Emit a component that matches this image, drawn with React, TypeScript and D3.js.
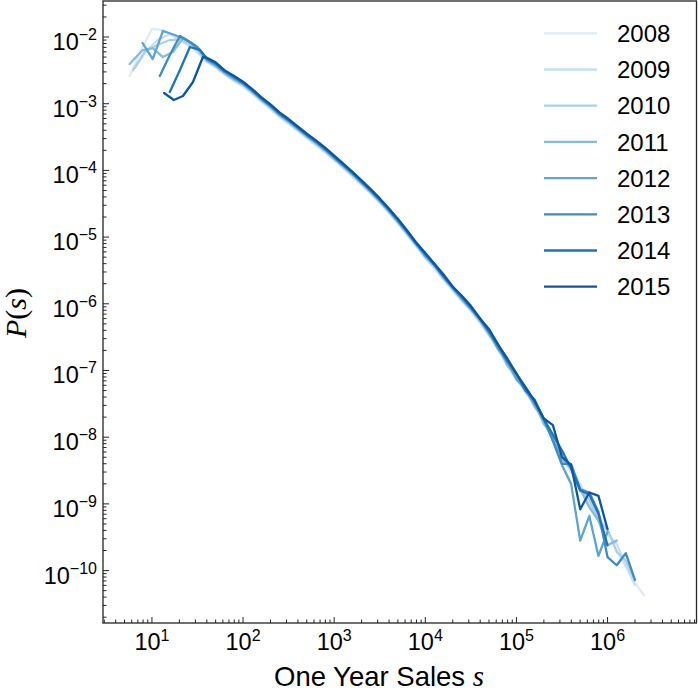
import React from 'react';
import * as d3 from 'd3';

const YEARS = ['2008', '2009', '2010', '2011', '2012', '2013', '2014', '2015'];
const COLORS = ['#deebf7', '#cadef0', '#acd0e6', '#85bcdc', '#5ea5d1', '#3d8dc4', '#2272b6', '#0d57a1'];

// common log-binned sales grid (bin centres)
const SALES_GRID = [40, 50, 63, 79, 100, 126, 158, 200, 251, 316, 398, 501, 631, 794,
  1e3, 1259, 1585, 1995, 2512, 3162, 3981, 5012, 6310, 7943,
  1e4, 12589, 15849, 19953, 25119, 31623, 39811, 50119, 63096, 79433,
  1e5, 125893, 158489, 199526, 251189, 316228, 398107, 501187, 630957, 794328,
  1e6, 1258925, 1584893, 1995262, 2511886];

// log10 P(s) on the grid, per year
const LOG_P_2008 = [-2.38, -2.46, -2.57, -2.66, -2.75, -2.85, -2.97, -3.09, -3.20, -3.31, -3.41, -3.52, -3.63, -3.73, -3.85, -3.97, -4.10, -4.22, -4.35, -4.49, -4.64, -4.80, -4.97, -5.14, -5.32, -5.47, -5.64, -5.81, -5.96, -6.11, -6.29,
  -6.48, -6.70, -6.92, -7.12, -7.33, -7.52, -7.78, -8.03, -8.27, -8.48, -8.70, -8.95, -9.15, -9.40, -9.70, -9.95, -10.18, -10.37];
const LOG_P_2009 = [-2.37, -2.45, -2.56, -2.65, -2.73, -2.84, -2.96, -3.07, -3.19, -3.29, -3.40, -3.51, -3.61, -3.72, -3.84, -3.96, -4.08, -4.21, -4.34, -4.48, -4.63, -4.79, -4.96, -5.13, -5.31, -5.46, -5.63, -5.79, -5.95, -6.10, -6.27,
  -6.47, -6.68, -6.93, -7.12, -7.30, -7.53, -7.78, -8.01, -8.30, -8.52, -8.72, -8.98, -9.22, -9.45, -9.60, -9.92, -10.22];
const LOG_P_2010 = [-2.36, -2.44, -2.55, -2.64, -2.72, -2.83, -2.95, -3.06, -3.18, -3.28, -3.39, -3.50, -3.60, -3.71, -3.83, -3.95, -4.07, -4.20, -4.33, -4.47, -4.62, -4.78, -4.95, -5.12, -5.30, -5.44, -5.62, -5.78, -5.94, -6.09, -6.26,
  -6.44, -6.67, -6.88, -7.14, -7.27, -7.55, -7.72, -8.06, -8.24, -8.48, -8.80, -8.93, -9.25, -9.38, -9.72, -9.85, -10.15];
const LOG_P_2011 = [-2.35, -2.43, -2.54, -2.63, -2.71, -2.82, -2.94, -3.05, -3.17, -3.27, -3.38, -3.49, -3.59, -3.70, -3.82, -3.94, -4.06, -4.19, -4.32, -4.46, -4.61, -4.77, -4.94, -5.11, -5.29, -5.43, -5.61, -5.77, -5.93, -6.08, -6.25,
  -6.46, -6.63, -6.92, -7.08, -7.32, -7.48, -7.80, -7.98, -8.34, -8.46, -8.78, -9.05, -9.25, -9.62, -9.55];
const LOG_P_2012 = [-2.34, -2.42, -2.53, -2.62, -2.70, -2.81, -2.93, -3.04, -3.16, -3.26, -3.37, -3.48, -3.58, -3.69, -3.81, -3.93, -4.05, -4.18, -4.31, -4.45, -4.60, -4.76, -4.93, -5.10, -5.28, -5.42, -5.60, -5.76, -5.92, -6.07, -6.24,
  -6.43, -6.68, -6.86, -7.13, -7.28, -7.52, -7.74, -8.05, -8.42, -8.70, -9.55, -9.18, -9.78, -9.42];
const LOG_P_2013 = [-2.33, -2.40, -2.52, -2.60, -2.69, -2.80, -2.92, -3.03, -3.15, -3.25, -3.36, -3.47, -3.57, -3.68, -3.80, -3.92, -4.04, -4.17, -4.30, -4.44, -4.59, -4.75, -4.92, -5.10, -5.26, -5.41, -5.59, -5.75, -5.90, -6.06, -6.23,
  -6.42, -6.64, -6.87, -7.06, -7.27, -7.47, -7.72, -8.05, -8.40, -8.40, -8.78, -8.83, -9.12, -9.80, -9.92, -9.74, -10.14];
const LOG_P_2014 = [-2.32, -2.39, -2.51, -2.59, -2.68, -2.79, -2.91, -3.02, -3.14, -3.24, -3.35, -3.46, -3.56, -3.67, -3.79, -3.91, -4.03, -4.16, -4.29, -4.43, -4.58, -4.74, -4.91, -5.09, -5.25, -5.41, -5.58, -5.75, -5.89, -6.05, -6.22,
  -6.41, -6.61, -6.85, -7.04, -7.30, -7.44, -7.73, -7.96, -8.20, -8.47, -8.80, -8.86, -9.15, -9.62];
const LOG_P_2015 = [-2.31, -2.38, -2.50, -2.58, -2.67, -2.78, -2.90, -3.01, -3.13, -3.23, -3.34, -3.45, -3.55, -3.66, -3.78, -3.90, -4.02, -4.15, -4.28, -4.42, -4.57, -4.73, -4.90, -5.08, -5.24, -5.40, -5.56, -5.74, -5.88, -6.03, -6.22,
  -6.38, -6.62, -6.82, -7.05, -7.25, -7.46, -7.72, -7.82, -8.30, -8.42, -9.08, -8.83, -8.88, -9.38];

// low-sales heads (each year has its own smallest bins)
const HEAD_S_2008 = [5.7, 7.6, 10.0, 13.2, 18.3, 26.1];
const HEAD_LOG_P_2008 = [-2.585, -2.195, -1.88, -1.895, -2.0, -2.12];
const HEAD_S_2009 = [6.5, 8.8, 11.6, 15.7, 21.9, 30.2];
const HEAD_LOG_P_2009 = [-2.465, -2.195, -2.045, -1.955, -2.075, -2.195];
const HEAD_S_2010 = [6.2, 8.3, 11.4, 15.7, 21.4, 29.5];
const HEAD_LOG_P_2010 = [-2.495, -2.225, -2.12, -2.045, -2.045, -2.15];
const HEAD_S_2011 = [5.7, 7.9, 10.2, 13.2, 17.0, 21.9, 29.5];
const HEAD_LOG_P_2011 = [-2.405, -2.195, -2.165, -2.30, -2.225, -2.015, -2.12];
const HEAD_S_2012 = [7.9, 10.2, 13.2, 17.8, 24.0, 31.6];
const HEAD_LOG_P_2012 = [-2.09, -2.33, -1.91, -1.97, -2.045, -2.15];
const HEAD_S_2013 = [12.2, 15.7, 20.3, 26.1, 33.6];
const HEAD_LOG_P_2013 = [-2.585, -2.27, -1.985, -2.075, -2.195];
const HEAD_S_2014 = [15.7, 20.3, 26.1, 33.6];
const HEAD_LOG_P_2014 = [-2.825, -2.495, -2.15, -2.195];
const HEAD_S_2015 = [13.6, 17.4, 21.9, 28.2, 36.3];
const HEAD_LOG_P_2015 = [-2.84, -2.945, -2.885, -2.675, -2.30];

const GRID_LOG_P = [LOG_P_2008, LOG_P_2009, LOG_P_2010, LOG_P_2011, LOG_P_2012, LOG_P_2013, LOG_P_2014, LOG_P_2015];
const HEAD_S = [HEAD_S_2008, HEAD_S_2009, HEAD_S_2010, HEAD_S_2011, HEAD_S_2012, HEAD_S_2013, HEAD_S_2014, HEAD_S_2015];
const HEAD_LOG_P = [HEAD_LOG_P_2008, HEAD_LOG_P_2009, HEAD_LOG_P_2010, HEAD_LOG_P_2011, HEAD_LOG_P_2012, HEAD_LOG_P_2013, HEAD_LOG_P_2014, HEAD_LOG_P_2015];

const X_TICK_EXPS = [1, 2, 3, 4, 5, 6];
const Y_TICK_EXPS = [-2, -3, -4, -5, -6, -7, -8, -9, -10];

const W = 698, H = 692;
const L = 103, R = 696.5, T = 1, B = 623;

export default function App() {
  const x = d3.scaleLog().domain([Math.pow(10, 0.463), Math.pow(10, 6.976)]).range([L, R]);
  const y = d3.scaleLog().domain([Math.pow(10, -10.786), Math.pow(10, -1.46)]).range([B, T]);

  const series = YEARS.map((yr, i) => {
    const pts: { s: number; p: number }[] = [];
    HEAD_S[i].forEach((s, j) => pts.push({ s, p: Math.pow(10, HEAD_LOG_P[i][j]) }));
    GRID_LOG_P[i].forEach((lp, j) => pts.push({ s: SALES_GRID[j], p: Math.pow(10, lp) }));
    return { yr, color: COLORS[i], pts };
  });

  const line = d3.line<{ s: number; p: number }>().x(d => x(d.s)).y(d => y(d.p));

  // minor ticks
  const xMinor: number[] = [];
  for (let e = 0; e <= 6; e++) for (let m = 2; m <= 9; m++) {
    const v = m * Math.pow(10, e);
    if (v >= x.domain()[0] && v <= x.domain()[1]) xMinor.push(v);
  }
  const yMinor: number[] = [];
  for (let e = -11; e <= -2; e++) for (let m = 2; m <= 9; m++) {
    const v = m * Math.pow(10, e);
    if (v >= y.domain()[0] && v <= y.domain()[1]) yMinor.push(v);
  }

  const axisColor = '#262626';
  const tickFont = 'Liberation Sans, Arial, sans-serif';

  return (
    <svg width={W} height={H} style={{ position: 'absolute', left: 0, top: 0, background: '#fff' }}>
      <rect x={0} y={0} width={W} height={H} fill="#fff" />
      <defs>
        <clipPath id="plotclip"><rect x={L} y={T} width={R - L} height={B - T} /></clipPath>
      </defs>
      <g clipPath="url(#plotclip)">
        {series.map(sr => (
          <path key={sr.yr} d={line(sr.pts) || ''} fill="none" stroke={sr.color} strokeWidth={2.3} strokeLinejoin="round" strokeLinecap="round" />
        ))}
      </g>
      {/* ticks */}
      <g stroke={axisColor} strokeWidth={1}>
        {X_TICK_EXPS.map(e => (
          <line key={'xm' + e} x1={x(Math.pow(10, e))} x2={x(Math.pow(10, e))} y1={B} y2={B - 6} />
        ))}
        {xMinor.map((v, k) => (
          <line key={'xn' + k} x1={x(v)} x2={x(v)} y1={B} y2={B - 3.5} />
        ))}
        {Y_TICK_EXPS.map(e => (
          <line key={'ym' + e} x1={L} x2={L + 6} y1={y(Math.pow(10, e))} y2={y(Math.pow(10, e))} />
        ))}
        {yMinor.map((v, k) => (
          <line key={'yn' + k} x1={L} x2={L + 3.5} y1={y(v)} y2={y(v)} />
        ))}
      </g>
      <rect x={L} y={T} width={R - L} height={B - T} fill="none" stroke={axisColor} strokeWidth={1.3} />
      {/* tick labels */}
      <g fontFamily={tickFont} fill="#000">
        {X_TICK_EXPS.map(e => (
          <text key={'xl' + e} x={x(Math.pow(10, e))} y={650} textAnchor="middle" fontSize={23.5}>
            10<tspan dy={-9} fontSize={16}>{String(e)}</tspan>
          </text>
        ))}
        {Y_TICK_EXPS.map(e => (
          <text key={'yl' + e} x={97} y={y(Math.pow(10, e)) + 13} textAnchor="end" fontSize={23.5}>
            10<tspan dy={-10} fontSize={16}>{'\u2212' + String(-e)}</tspan>
          </text>
        ))}
      </g>
      {/* axis labels */}
      <text x={274} y={686} fontFamily={tickFont} fontSize={27.5} fill="#000">
        One Year Sales <tspan fontFamily="Liberation Serif, serif" fontStyle="italic" fontSize={29}>s</tspan>
      </text>
      <text transform="translate(26,313) rotate(-90)" textAnchor="middle" fontFamily="Liberation Serif, serif" fontSize={30} fill="#000">
        <tspan fontStyle="italic">P</tspan>(<tspan fontStyle="italic">s</tspan>)
      </text>
      {/* legend */}
      <g>
        {series.map((sr, i) => {
          const cy = 33.3 + i * 36.2;
          return (
            <g key={'lg' + sr.yr}>
              <line x1={544} x2={597} y1={cy} y2={cy} stroke={sr.color} strokeWidth={2.3} />
              <text x={617} y={cy + 8.6} fontFamily={tickFont} fontSize={24} fill="#000">{sr.yr}</text>
            </g>
          );
        })}
      </g>
    </svg>
  );
}
